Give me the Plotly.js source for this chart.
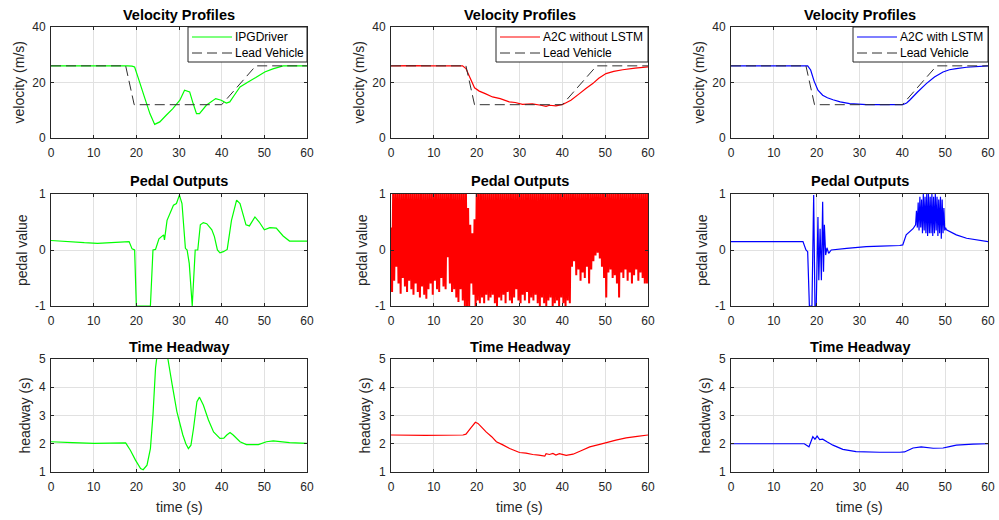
<!DOCTYPE html>
<html>
<head>
<meta charset="utf-8">
<script src="https://cdn.plot.ly/plotly-3.0.1.min.js"></script>
<style>html,body{margin:0;padding:0;background:#fff}#chart{width:999px;height:520px}</style>
</head>
<body>
<div id="chart"></div>
<script>
// ---------------- DATA ----------------
const leadTime = [0, 17.5, 19.5, 40, 48, 60];
const leadVel = [26, 26, 12, 12, 26, 26];

const ipgVelTime = [0, 10, 18, 19, 19.6, 20.5, 22, 23.2, 24.3, 25.5, 27, 28.5, 30.2, 31.3, 32.5, 33.3, 34.1, 34.8, 36.4, 38.6, 39.9, 41.1, 41.9, 43, 44.3, 46.2, 48, 50.1, 52, 54.4, 60];
const ipgVel = [26, 26, 26, 25.9, 25.6, 21.4, 14.3, 8.7, 4.9, 5.8, 8.2, 10.5, 13.6, 17.2, 16.6, 12.5, 8.8, 8.8, 11.8, 14.2, 13.6, 12.6, 13, 15.5, 18.4, 20.2, 21.8, 23.8, 24.9, 26, 26];

const a2cVelTime = [0, 5, 10, 16.7, 17.5, 18.5, 19.5, 20.6, 22, 23.7, 25.5, 27.6, 29, 30.7, 33, 35, 36.2, 37, 38.5, 40.1, 42, 44, 45.5, 47.1, 48.5, 50.2, 52, 54.1, 57, 60];
const a2cVel = [26, 26.1, 26, 26, 25, 21.5, 18.1, 16.9, 16, 14.8, 14.2, 13, 12.8, 12.1, 12.3, 11.8, 11.4, 11.8, 11.6, 12.1, 13.6, 16, 17.8, 19.6, 21.5, 23.2, 24, 24.6, 25.2, 25.6];

const lstmVelTime = [0, 17.9, 18.6, 19.4, 20.3, 21.4, 22.5, 23.8, 25.5, 27.7, 31.6, 35, 40.1, 41, 41.7, 43.5, 45.6, 47.5, 49.5, 51, 52.6, 55, 60];
const lstmVel = [26, 26, 24.5, 20.5, 17.2, 15.4, 14.5, 13.8, 13, 12.4, 12, 12, 12, 12.6, 13.6, 16.5, 19.6, 22, 23.8, 24.6, 25, 25.5, 26];

const ipgPedalTime = [0, 7.8, 10.9, 18.3, 19, 19.6, 20, 23.3, 23.9, 24.5, 25.3, 26.4, 26.6, 27.2, 28.7, 29.4, 30.1, 30.7, 31.5, 31.9, 32.4, 33.1, 33.8, 34.4, 35, 35.7, 36.5, 37.7, 38.3, 39, 39.6, 40.4, 41.3, 42.3, 43.5, 44.3, 45.7, 46.5, 47.8, 48.8, 50, 51.3, 52.8, 54.4, 55.9, 60];
const ipgPedal = [0.17, 0.13, 0.12, 0.15, 0.02, 0, -1, -1, 0, 0.01, 0.2, 0.27, 0.18, 0.53, 0.8, 0.83, 0.98, 0.83, 0.03, 0, -0.24, -1, 0, 0, 0.45, 0.49, 0.47, 0.36, 0.24, 0, -0.05, -0.03, 0.01, 0.53, 0.89, 0.83, 0.45, 0.43, 0.59, 0.5, 0.36, 0.4, 0.39, 0.25, 0.16, 0.16];

// A2C without LSTM pedal: peaks at t = 0, 0.5, 1.0 ... 60 and troughs at t = 0.25, 0.75 ... 59.75
const a2cPedalStep = 0.25;
const a2cPedalPeaks = [0.4,
  1,1,1,1,1,1,1,1,1,1, 1,1,1,1,1,1,1,1,1,1, 1,1,1,1,1,1,1,1,1,1, 1,1,1,1,1,
  0.75, 0.45, 0.3, 0.55,
  1,1,1,1,1,1,1,1,1,1, 1,1,1,1,1,1,1,1,1,1, 1,1,1,1,1,1,1,1,1,1, 1,1,1,1,1,1,1,1,1,1,
  1,1,1,1,1,1,1,1,1,1, 1,1,1,1,1,1,1,1,1,1, 1,1,1,1,1,1,1,1,1,1, 1,1,1,1,1,1,1,1,1,1, 1];
const a2cPedalTroughs = [
  -0.75, -0.55, -0.3, -0.6, -0.78, -0.5,
  -0.65, -0.75, -0.55, -0.7, -0.8, -0.6,
  -0.75, -0.85, -0.65, -0.8, -0.87, -0.7,
  -0.6, -0.8, -0.55, -0.7, -0.75, -0.5,
  -0.65, -0.7, -0.13, -0.6, -0.75, -0.7,
  -0.85, -0.93, -0.7, -0.9, -1.0, -1.0,
  -1.0, -0.6, -0.8, -1.0, -0.9, -0.95,
  -0.85, -0.95, -0.8, -0.9, -0.85, -0.8,
  -0.95, -1.0, -0.85, -0.9, -0.8, -0.95,
  -0.75, -0.9, -0.95, -0.85, -0.7, -0.9,
  -0.95, -0.8, -0.9, -0.75, -0.95, -0.85,
  -0.9, -0.8, -0.95, -1.0, -0.85, -0.95,
  -1.0, -0.9, -0.85, -1.0, -0.95, -0.9,
  -1.0, -0.85, -0.95, -1.0, -0.9, -0.95,
  -0.3, -0.2, -0.45, -0.35, -0.55, -0.4,
  -0.5, -0.3, -0.6, -0.35, -0.2, -0.1,
  -0.05, -0.15, -0.3, -0.5, -0.85, -0.4,
  -0.35, -0.5, -0.45, -0.6, -0.85, -0.4,
  -0.5, -0.35, -0.55, -0.4, -0.6, -0.45,
  -0.35, -0.55, -0.4, -0.5, -0.6, -0.6];

const lstmPedalTime = [0, 16.8, 17.5, 17.9, 18.3, 18.9, 19.3, 19.6, 19.9, 20.3, 20.5, 20.8, 21.1, 21.4, 21.6, 21.8, 22.1, 22.4, 22.8, 23.4, 27, 31.6, 35, 39.4, 40.1, 40.9, 42.5,
  43.1, 43.3, 43.5, 43.7, 43.9, 44.1, 44.3, 44.5, 44.7, 44.9, 45.1, 45.3, 45.5, 45.7, 45.9, 46.1, 46.3, 46.5, 46.7, 46.9, 47.1, 47.3, 47.5, 47.7, 47.9, 48.1, 48.3, 48.5, 48.7, 48.9, 49.1, 49.3, 49.5, 49.7, 49.9, 50.1,
  50.3, 52.6, 55, 60];
const lstmPedal = [0.15, 0.15, 0, -0.03, -1, -1, 0.98, -1, -1, 0.59, -0.54, 0.38, -0.54, 0.86, -0.39, 0.45, -0.09, 0.04, -0.06, 0, 0.03, 0.06, 0.07, 0.08, 0.09, 0.27, 0.38,
  0.45, 0.7, 0.4, 0.85, 0.35, 0.95, 0.4, 0.9, 0.3, 1.0, 0.35, 0.95, 0.3, 1.0, 0.25, 1.0, 0.3, 0.95, 0.3, 1.0, 0.25, 0.95, 0.3, 1.0, 0.35, 0.95, 0.25, 0.9, 0.3, 0.95, 0.2, 0.9, 0.3, 0.75, 0.35, 0.4,
  0.36, 0.27, 0.21, 0.15];

const ipgHeadTime = [0, 5, 10.1, 17.5, 18.6, 19.8, 21, 21.6, 22.5, 23.3, 23.9, 24.5, 25, 25.8, 26.6, 27.4, 28.4, 29.5, 30.9, 31.6, 32.2, 32.8, 33.4, 34.2, 34.8, 35.7, 36.9, 38.1, 39.6, 40.5, 41.2, 41.96, 42.7, 44.3, 45.8, 48.6, 50.5, 52.1, 55.9, 60];
const ipgHead = [2.07, 2.04, 2.01, 2.03, 1.77, 1.42, 1.12, 1.08, 1.24, 1.83, 3.02, 4.68, 5.3, 5.6, 5.4, 5.0, 4.09, 3.14, 2.31, 2.0, 1.83, 1.95, 2.54, 3.49, 3.65, 3.37, 2.84, 2.42, 2.19, 2.2, 2.31, 2.4, 2.31, 2.07, 1.97, 1.97, 2.07, 2.1, 2.04, 2.01];

const a2cHeadTime = [0, 8, 16.8, 17.5, 18.6, 19.7, 20.3, 21.2, 22.2, 23.5, 24.6, 26, 27.7, 29, 30, 31.5, 33.1, 34.5, 35.9, 36.2, 37, 37.8, 38.5, 39.3, 40.9, 42.5, 44.5, 46.4, 48.5, 50.3, 52.5, 54.9, 57.5, 60];
const a2cHead = [2.31, 2.3, 2.31, 2.34, 2.55, 2.76, 2.72, 2.58, 2.42, 2.25, 2.07, 1.97, 1.83, 1.75, 1.69, 1.67, 1.62, 1.6, 1.56, 1.65, 1.62, 1.66, 1.6, 1.65, 1.59, 1.63, 1.76, 1.89, 1.97, 2.04, 2.13, 2.21, 2.26, 2.31];

const lstmHeadTime = [0, 17.1, 18.2, 19.1, 19.6, 20.1, 20.7, 21.4, 22.5, 23.8, 26.1, 29.2, 34.7, 39.4, 40.5, 41.5, 42.5, 44.4, 47.2, 49.5, 51, 52.6, 56.5, 60];
const lstmHead = [2.0, 2.0, 1.89, 2.25, 2.16, 2.27, 2.15, 2.16, 2.06, 1.95, 1.8, 1.72, 1.7, 1.7, 1.71, 1.78, 1.85, 1.89, 1.84, 1.85, 1.9, 1.95, 1.99, 2.0];

const seriesNames = ['IPGDriver', 'A2C without LSTM', 'A2C with LSTM'];
const leadName = 'Lead Vehicle';
const rowTitles = ['Velocity Profiles', 'Pedal Outputs', 'Time Headway'];
const rowYLabels = ['velocity (m/s)', 'pedal value', 'headway (s)'];
const xLabel = 'time (s)';
const xTicks = [0, 10, 20, 30, 40, 50, 60];
const velTicks = [0, 20, 40];
const pedalTicks = [-1, 0, 1];
const pedalTickText = ['-1', '0', '1'];
const headTicks = [1, 2, 3, 4, 5];

// -------------- BUILD --------------
const W = 999, H = 520;
const colPx = [[51, 307], [391, 648], [731, 988]];
const rowPx = [[27, 138], [194, 306], [359, 472]];
const legendLeftPx = [188, 496, 853];
const colors = ['#00ff00', '#ff0000', '#0000ff'];
const leadColor = '#303030';
const FONT = 'Liberation Sans, Arial, Helvetica, sans-serif';
const axisColor = '#262626';

// interleave peaks and troughs of the A2C pedal
const a2cPedalTime = [], a2cPedal = [];
for (let i = 0; i < a2cPedalPeaks.length; i++) {
  a2cPedalTime.push(i * 2 * a2cPedalStep); a2cPedal.push(a2cPedalPeaks[i]);
  if (i < a2cPedalTroughs.length) { a2cPedalTime.push((i * 2 + 1) * a2cPedalStep); a2cPedal.push(a2cPedalTroughs[i]); }
}

const velData = [[ipgVelTime, ipgVel], [a2cVelTime, a2cVel], [lstmVelTime, lstmVel]];
const pedalData = [[ipgPedalTime, ipgPedal], [a2cPedalTime, a2cPedal], [lstmPedalTime, lstmPedal]];
const headData = [[ipgHeadTime, ipgHead], [a2cHeadTime, a2cHead], [lstmHeadTime, lstmHead]];

const traces = [];
const layout = {
  width: W, height: H, margin: {l: 0, r: 0, t: 0, b: 0},
  paper_bgcolor: '#fff', plot_bgcolor: '#fff',
  font: {family: FONT, color: axisColor},
  showlegend: false, annotations: [], shapes: []
};
const px = v => v / W, py = v => 1 - v / H;

for (let r = 0; r < 3; r++) {
  for (let c = 0; c < 3; c++) {
    const n = r * 3 + c + 1;
    const xs = n === 1 ? '' : String(n);
    const xa = 'x' + xs, ya = 'y' + xs;
    const common = {
      showline: true, linecolor: axisColor, linewidth: 1, mirror: 'ticks',
      ticks: 'inside', ticklen: 3, tickcolor: axisColor, tickwidth: 1,
      showgrid: true, gridcolor: '#e1e1e1', gridwidth: 1, zeroline: false,
      tickfont: {family: FONT, size: 12, color: axisColor}, fixedrange: true
    };
    layout['xaxis' + xs] = Object.assign({}, common, {
      domain: [px(colPx[c][0]), px(colPx[c][1])], anchor: ya, range: [0, 60],
      tickmode: 'array', tickvals: xTicks, ticklabelstandoff: 4
    });
    let yextra;
    if (r === 0) yextra = {range: [0, 40], tickmode: 'array', tickvals: velTicks};
    else if (r === 1) yextra = {range: [-1, 1], tickmode: 'array', tickvals: pedalTicks, ticktext: pedalTickText};
    else yextra = {range: [1, 5], tickmode: 'array', tickvals: headTicks};
    layout['yaxis' + xs] = Object.assign({}, common, {domain: [py(rowPx[r][1]), py(rowPx[r][0])], anchor: xa, ticklabelstandoff: 2}, yextra);

    const data = r === 0 ? velData[c] : (r === 1 ? pedalData[c] : headData[c]);
    traces.push({
      type: 'scatter', mode: 'lines', x: data[0], y: data[1], xaxis: xa, yaxis: ya,
      name: seriesNames[c], line: {color: colors[c], width: (r === 1 && c === 1) ? 2 : 1.2, simplify: false},
      hoverinfo: 'skip'
    });
    if (r === 0) {
      traces.push({
        type: 'scatter', mode: 'lines', x: leadTime, y: leadVel, xaxis: xa, yaxis: ya,
        name: leadName, line: {color: leadColor, width: 1, dash: '10px,5px'}, hoverinfo: 'skip'
      });
      // legend box (drawn as decoration above the traces)
      const L = legendLeftPx[c], R = colPx[c][1], T = rowPx[0][0], B = 62;
      layout.shapes.push({type: 'rect', xref: 'paper', yref: 'paper', layer: 'above',
        x0: px(L), x1: px(R), y0: py(B), y1: py(T), fillcolor: '#fff', line: {color: axisColor, width: 1}});
      const rowsY = [37, 53];
      const items = [[seriesNames[c], colors[c], 'solid', 1.2], [leadName, leadColor, '10px,5px', 1]];
      items.forEach((it, k) => {
        layout.shapes.push({type: 'line', xref: 'paper', yref: 'paper', layer: 'above',
          x0: px(L + 4), x1: px(L + 44), y0: py(rowsY[k]), y1: py(rowsY[k]),
          line: {color: it[1], width: it[3], dash: it[2]}});
        layout.annotations.push({text: it[0], xref: 'paper', yref: 'paper',
          x: px(L + 45), y: py(rowsY[k]), xanchor: 'left', yanchor: 'middle', showarrow: false,
          font: {family: FONT, size: 12, color: '#000'}});
      });
    }
    // subplot title
    const rowTitleY = [15, 181, 347][r];
    layout.annotations.push({
      text: '<b>' + rowTitles[r] + '</b>', xref: 'paper', yref: 'paper',
      x: px((colPx[c][0] + colPx[c][1]) / 2), y: py(rowTitleY),
      xanchor: 'center', yanchor: 'middle', showarrow: false,
      font: {family: FONT, size: 14.5, color: '#000'}
    });
    // y label
    const yOff = [33, 29, 27][r];
    layout.annotations.push({
      text: rowYLabels[r], xref: 'paper', yref: 'paper',
      x: px(colPx[c][0] - yOff), y: py((rowPx[r][0] + rowPx[r][1]) / 2),
      xanchor: 'center', yanchor: 'middle', textangle: -90, showarrow: false,
      font: {family: FONT, size: 14, color: axisColor}
    });
    if (r === 2) {
      layout.annotations.push({
        text: xLabel, xref: 'paper', yref: 'paper',
        x: px((colPx[c][0] + colPx[c][1]) / 2), y: py(507),
        xanchor: 'center', yanchor: 'middle', showarrow: false,
        font: {family: FONT, size: 14, color: axisColor}
      });
    }
  }
}

Plotly.newPlot('chart', traces, layout, {staticPlot: true, displayModeBar: false});
</script>
</body>
</html>
